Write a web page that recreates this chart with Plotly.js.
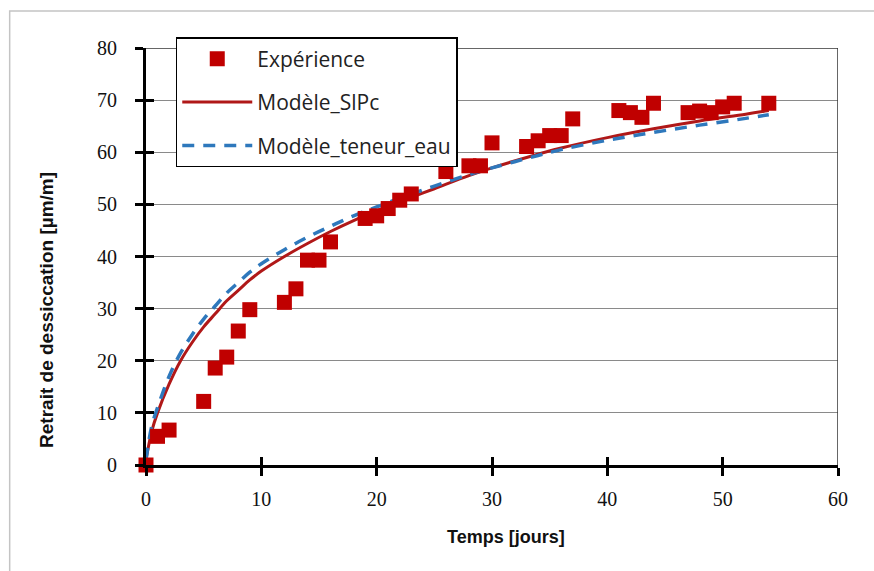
<!DOCTYPE html>
<html>
<head>
<meta charset="utf-8">
<script src="https://cdn.plot.ly/plotly-3.0.1.min.js"></script>
<style>html,body{margin:0;padding:0;background:#fff;}#chart{width:874px;height:571px;}</style>
</head>
<body>
<div id="chart"></div>
<script>
// Experimental points
const expDays = [0, 1, 2, 5, 6, 7, 8, 9, 12, 13, 14, 15, 16, 19, 20, 21, 22, 23, 26, 28, 29, 30, 33, 34, 35, 36, 37, 41, 42, 43, 44, 47, 48, 49, 50, 51, 54];
const expShrink = [0, 5.5, 6.7, 12.2, 18.6, 20.7, 25.7, 29.8, 31.2, 33.8, 39.3, 39.3, 42.8, 47.3, 47.8, 49.2, 50.8, 52.0, 56.3, 57.4, 57.4, 61.8, 61.1, 62.2, 63.2, 63.2, 66.4, 68.0, 67.6, 66.7, 69.4, 67.6, 67.9, 67.6, 68.7, 69.4, 69.4];

// Model curves
const modelDays = [0, 0.5, 1, 2, 3, 4, 5, 6, 7, 8, 9, 10, 12, 14, 16, 18, 20, 22, 25, 28, 30, 33, 36, 40, 44, 48, 52, 54];
const modelSlPc = [1, 6.5, 10, 15.5, 20, 23.5, 26.5, 29, 31.5, 33.5, 35.5, 37.2, 40, 42.5, 44.8, 46.9, 48.8, 50.5, 53, 55.5, 57, 59, 60.8, 62.8, 64.5, 66, 67.3, 68];
const modelWater = [1, 7.5, 11, 17, 21.5, 25, 28, 30.5, 33, 35, 37, 38.6, 41.3, 43.7, 45.8, 47.8, 49.5, 51.2, 53.5, 55.7, 57, 58.8, 60.5, 62.3, 63.8, 65.2, 66.5, 67.2];

const xTicks = [0, 10, 20, 30, 40, 50, 60];
const yTicks = [0, 10, 20, 30, 40, 50, 60, 70, 80];
const xTitle = 'Temps [jours]';
const yTitle = 'Retrait de dessiccation [µm/m]';

const traces = [
  {
    x: modelDays, y: modelSlPc, name: 'Modèle_SlPc', mode: 'lines', type: 'scatter',
    line: {color: '#B01818', width: 3, shape: 'spline'},
    legendgroup: 'b', legendrank: 2
  },
  {
    x: modelDays, y: modelWater, name: 'Modèle_teneur_eau', mode: 'lines', type: 'scatter',
    line: {color: '#2E78BC', width: 3.5, dash: '12px,9px', shape: 'spline'},
    legendgroup: 'c', legendrank: 3
  },
  {
    x: expDays, y: expShrink, name: 'Expérience', mode: 'markers', type: 'scatter',
    xaxis: 'x2', yaxis: 'y2',
    marker: {symbol: 'square', size: 15, color: '#C00000'},
    cliponaxis: false, legendgroup: 'a', legendrank: 1
  }
];

const tickStyleOut = {ticks: 'outside', ticklen: 8, tickwidth: 3, tickcolor: '#000'};
const tickStyleIn = {ticks: 'inside', ticklen: 8, tickwidth: 3, tickcolor: '#000'};

const layout = {
  width: 874, height: 571,
  margin: {l: 146, r: 36, t: 48, b: 106},
  paper_bgcolor: '#ffffff', plot_bgcolor: '#ffffff',
  showlegend: true,
  xaxis: Object.assign({
    range: [0, 60], tickvals: xTicks, ticktext: xTicks.map(String),
    showgrid: false, zeroline: false,
    showline: true, linecolor: '#000', linewidth: 3,
    ticklabelstandoff: 6,
    tickfont: {family: 'Liberation Serif, serif', size: 20, color: '#111'}
  }, tickStyleOut),
  yaxis: Object.assign({
    range: [0, 80], tickvals: yTicks, ticktext: yTicks.map(String),
    showgrid: true, gridcolor: '#8a8a8a', gridwidth: 1, zeroline: false,
    showline: true, linecolor: '#000', linewidth: 3,
    ticklabelstandoff: 14,
    tickfont: {family: 'Liberation Serif, serif', size: 20, color: '#111'}
  }, tickStyleOut),
  xaxis2: Object.assign({
    range: [0, 60], overlaying: 'x', anchor: 'y2', side: 'bottom', tickvals: xTicks,
    showticklabels: false, showgrid: false, zeroline: false, showline: false
  }, tickStyleIn),
  yaxis2: Object.assign({
    range: [0, 80], overlaying: 'y', anchor: 'x2', side: 'left', tickvals: yTicks,
    showticklabels: false, showgrid: false, zeroline: false, showline: false
  }, tickStyleIn),
  annotations: [
    {text: '<b>' + xTitle + '</b>', xref: 'paper', yref: 'paper', x: 0.52, y: -0.173,
     xanchor: 'center', yanchor: 'middle', showarrow: false,
     font: {family: 'Liberation Sans, Arial, sans-serif', size: 18, color: '#111'}},
    {text: '<b>' + yTitle + '</b>', xref: 'paper', yref: 'paper', x: -0.143, y: 0.372,
     xanchor: 'center', yanchor: 'middle', showarrow: false, textangle: -90,
     font: {family: 'Liberation Sans, Arial, sans-serif', size: 19, color: '#111'}}
  ],
  legend: {
    x: 0.043, y: 1.026, xanchor: 'left', yanchor: 'top',
    bgcolor: '#ffffff', bordercolor: '#000', borderwidth: 1.5,
    font: {family: 'Open Sans, Arial, sans-serif', size: 21, color: '#222'},
    traceorder: 'grouped', tracegroupgap: 13, itemwidth: 70
  },
  shapes: [
    {type: 'line', xref: 'x', yref: 'paper', x0: 60, x1: 60, y0: 0, y1: 1, line: {color: '#333', width: 1.5}},
    {type: 'line', xref: 'paper', yref: 'y', x0: 0, x1: 1, y0: 80, y1: 80, line: {color: '#333', width: 1.5}},
    {type: 'rect', xref: 'paper', yref: 'paper', x0: -0.197, x1: 1.2, y0: -0.4, y1: 1.0885, line: {color: '#c4c4c4', width: 1.5}, layer: 'below'}
  ]
};

Plotly.newPlot('chart', traces, layout, {staticPlot: true, displayModeBar: false});
</script>
</body>
</html>
